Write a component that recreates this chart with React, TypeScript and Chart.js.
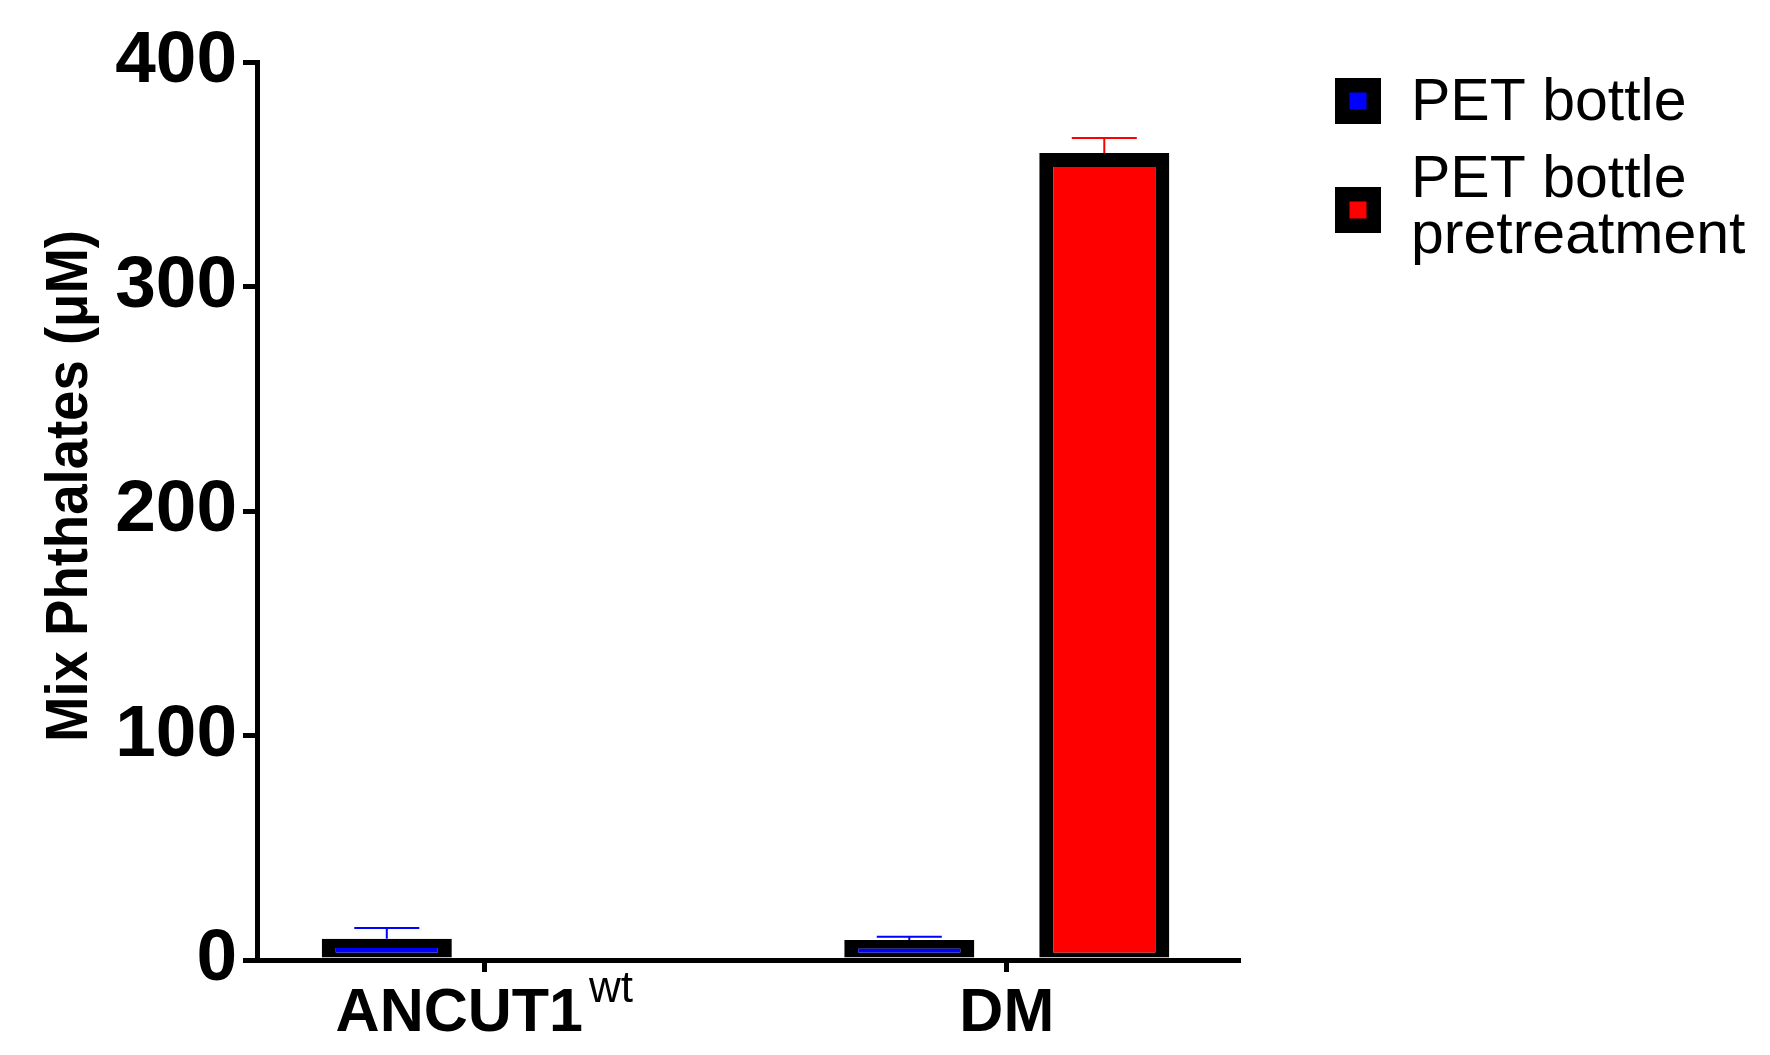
import React, { useEffect, useRef } from "react";
import { Chart, registerables } from "chart.js";

Chart.register(...registerables);

const categories = ["ANCUT1", "DM"];
const categorySuperscripts = ["wt", ""];
const seriesNames = ["PET bottle", "PET bottle pretreatment"];
const legendLines = [["PET bottle"], ["PET bottle", "pretreatment"]];
const seriesColors = ["#0000ff", "#ff0000"];
const petBottle = [9.5, 8.9];
const petBottleErr = [4.75, 1.5];
const petPretreat: (number | null)[] = [null, 359.5];
const petPretreatErr: (number | null)[] = [null, 6.6];
const yTicks = [0, 100, 200, 300, 400];
const yTitle = "Mix Phthalates (μM)";

const FONT = "'Liberation Sans', Arial, Helvetica, sans-serif";

const errorData = [petBottleErr, petPretreatErr];

const customDraw = {
  id: "customDraw",
  afterDatasetsDraw(chart: any) {
    const ctx = chart.ctx;
    const y = chart.scales.y;
    chart.data.datasets.forEach((ds: any, di: number) => {
      const meta = chart.getDatasetMeta(di);
      meta.data.forEach((el: any, j: number) => {
        const raw = ds.data[j];
        if (!raw || raw.y == null) return;
        const err = errorData[di][raw.x];
        if (err == null) return;
        const topPx = y.getPixelForValue(raw.y + err);
        const half = el.width / 4;
        ctx.save();
        ctx.strokeStyle = seriesColors[di];
        ctx.lineWidth = 2;
        ctx.beginPath();
        ctx.moveTo(el.x, el.y);
        ctx.lineTo(el.x, topPx);
        ctx.moveTo(el.x - half, topPx);
        ctx.lineTo(el.x + half, topPx);
        ctx.stroke();
        ctx.restore();
      });
    });
  },
  afterDraw(chart: any) {
    const ctx = chart.ctx;
    const xs = chart.scales.x;
    ctx.save();
    ctx.fillStyle = "#000";
    // x category labels
    categories.forEach((c, i) => {
      const cx = xs.getPixelForValue(i);
      ctx.font = `bold 61px ${FONT}`;
      const w1 = ctx.measureText(c).width;
      const sup = categorySuperscripts[i];
      let w2 = 0;
      const gap = sup ? 6 : 0;
      if (sup) {
        ctx.font = `44px ${FONT}`;
        w2 = ctx.measureText(sup).width;
      }
      const start = cx - (w1 + gap + w2) / 2;
      ctx.textAlign = "left";
      ctx.textBaseline = "alphabetic";
      ctx.font = `bold 61px ${FONT}`;
      ctx.fillText(c, start, 1031);
      if (sup) {
        ctx.font = `44px ${FONT}`;
        ctx.fillText(sup, start + w1 + gap, 1002);
      }
    });
    // y title
    ctx.save();
    ctx.translate(87, 486);
    ctx.rotate(-Math.PI / 2);
    ctx.textAlign = "center";
    ctx.textBaseline = "alphabetic";
    ctx.font = `bold 60px ${FONT}`;
    ctx.fillText(yTitle, 0, 0, 512);
    ctx.restore();
    // legend
    const boxX = 1335;
    const boxSize = 46;
    const inner = 17;
    const boxYs = [78, 187];
    const baselines = [[120], [197, 253]];
    seriesNames.forEach((_, i) => {
      const by = boxYs[i];
      ctx.fillStyle = "#000";
      ctx.fillRect(boxX, by, boxSize, boxSize);
      ctx.fillStyle = seriesColors[i];
      ctx.fillRect(boxX + (boxSize - inner) / 2, by + (boxSize - inner) / 2, inner, inner);
      ctx.fillStyle = "#000";
      ctx.font = `59px ${FONT}`;
      ctx.textAlign = "left";
      ctx.textBaseline = "alphabetic";
      legendLines[i].forEach((line, k) => {
        ctx.fillText(line, 1411, baselines[i][k]);
      });
    });
    ctx.restore();
  },
};

export default function App() {
  const ref = useRef<HTMLCanvasElement | null>(null);
  useEffect(() => {
    if (!ref.current) return;
    Chart.defaults.font.family = FONT;
    const barCommon = {
      borderColor: "#000000",
      borderWidth: { top: 14, left: 14, right: 14, bottom: 5 },
      borderSkipped: false as any,
      categoryPercentage: 0.7464,
      barPercentage: 0.667,
    };
    const chart = new Chart(ref.current, {
      type: "bar",
      data: {
        datasets: [
          {
            label: seriesNames[0],
            data: categories.map((_, i) => ({ x: i, y: petBottle[i] })),
            backgroundColor: seriesColors[0],
            ...barCommon,
          },
          {
            label: seriesNames[1],
            data: categories.map((_, i) => ({ x: i, y: petPretreat[i] })),
            backgroundColor: seriesColors[1],
            ...barCommon,
          },
        ] as any,
      },
      options: {
        animation: false,
        responsive: false,
        maintainAspectRatio: false,
        layout: { padding: { top: 62, right: 532, bottom: 0, left: 0 } },
        plugins: {
          legend: { display: false },
          tooltip: { enabled: false },
        },
        scales: {
          x: {
            type: "linear",
            offset: false,
            min: -0.435,
            max: 1.4425,
            afterBuildTicks: (scale: any) => {
              scale.ticks = categories.map((_, i) => ({ value: i }));
            },
            afterFit: (scale: any) => {
              scale.height = 95;
            },
            ticks: { display: false },
            grid: {
              offset: false,
              drawOnChartArea: false,
              drawTicks: true,
              tickLength: 12,
              lineWidth: 5,
              color: "#000",
              z: 1,
            },
            border: { display: true, color: "#000", width: 5, z: 1 },
          },
          y: {
            type: "linear",
            min: 0,
            max: 400,
            afterBuildTicks: (scale: any) => {
              scale.ticks = yTicks.map((v) => ({ value: v }));
            },
            afterFit: (scale: any) => {
              scale.width = 257;
            },
            ticks: {
              color: "#000",
              padding: 6,
              font: { size: 73, weight: "bold", family: FONT },
            },
            grid: {
              drawOnChartArea: false,
              drawTicks: true,
              tickLength: 14,
              lineWidth: 5,
              color: "#000",
              z: 1,
            },
            border: { display: true, color: "#000", width: 5, z: 1 },
          },
        },
      } as any,
      plugins: [customDraw],
    });
    return () => chart.destroy();
  }, []);
  return (
    <div style={{ position: "fixed", left: 0, top: 0, width: 1770, height: 1055, background: "#fff" }}>
      <canvas ref={ref} width={1770} height={1055} style={{ display: "block", width: 1770, height: 1055 }} />
    </div>
  );
}
